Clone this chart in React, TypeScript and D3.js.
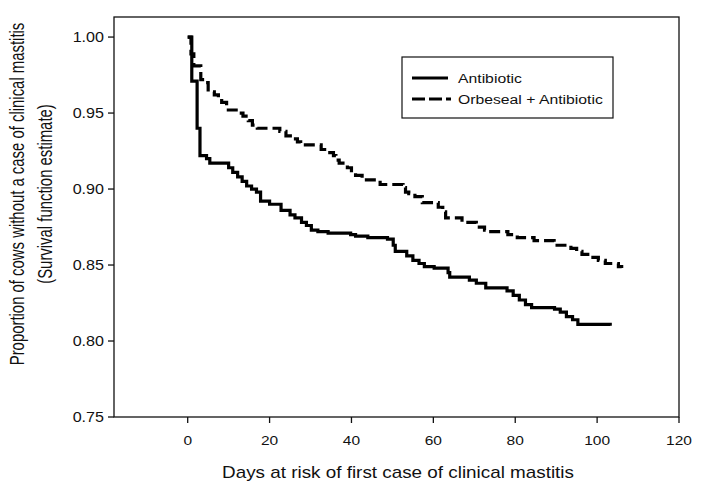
import React from "react";
import * as d3 from "d3";

// Kaplan-Meier step data (day, survival estimate after that day)
const antibioticDays = [0, 1.0, 2.3, 3.0, 4.6, 5.4, 10.0, 11.0, 12.2, 13.3, 14.4, 15.6, 16.8, 17.8, 20.0, 22.8, 25.0, 26.2, 27.8, 29.0, 30.2, 31.8, 34.3, 39.8, 41.0, 44.0, 48.8, 50.2, 50.7, 53.5, 55.0, 56.5, 57.8, 60.2, 63.6, 64.0, 68.8, 70.5, 72.8, 78.0, 79.5, 81.0, 82.5, 84.0, 89.6, 91.0, 92.5, 94.0, 95.3, 103.2];
const antibioticSurv = [1.0, 0.971, 0.94, 0.922, 0.92, 0.917, 0.914, 0.911, 0.908, 0.905, 0.902, 0.9, 0.898, 0.892, 0.89, 0.886, 0.883, 0.881, 0.878, 0.876, 0.873, 0.872, 0.871, 0.87, 0.869, 0.868, 0.867, 0.863, 0.859, 0.856, 0.853, 0.851, 0.849, 0.848, 0.845, 0.842, 0.84, 0.838, 0.835, 0.833, 0.83, 0.827, 0.824, 0.822, 0.821, 0.819, 0.816, 0.814, 0.811, 0.81];

const orbesealDays = [0, 0.8, 1.5, 3.2, 4.2, 5.0, 6.5, 7.5, 8.3, 9.5, 12.5, 13.5, 14.8, 15.8, 17.0, 22.5, 24.0, 25.5, 26.8, 27.6, 32.6, 34.0, 35.6, 36.2, 37.0, 39.0, 40.0, 41.0, 42.6, 47.0, 52.6, 53.2, 54.0, 55.5, 57.3, 61.2, 62.3, 63.0, 67.0, 70.5, 72.5, 73.5, 78.2, 80.5, 84.6, 89.5, 93.6, 95.0, 96.3, 98.2, 100.3, 102.0, 105.2, 106.0];
const orbesealSurv = [1.0, 0.989, 0.981, 0.972, 0.97, 0.964, 0.962, 0.96, 0.957, 0.952, 0.95, 0.948, 0.945, 0.942, 0.94, 0.938, 0.935, 0.933, 0.931, 0.929, 0.926, 0.924, 0.922, 0.919, 0.917, 0.914, 0.911, 0.909, 0.906, 0.903, 0.901, 0.898, 0.897, 0.895, 0.891, 0.888, 0.885, 0.881, 0.878, 0.875, 0.873, 0.872, 0.87, 0.868, 0.866, 0.863, 0.861, 0.859, 0.857, 0.855, 0.853, 0.851, 0.849, 0.848];

const xTicks = [0, 20, 40, 60, 80, 100, 120];
const yTicks = [0.75, 0.8, 0.85, 0.9, 0.95, 1.0];
const seriesNames = ["Antibiotic", "Orbeseal + Antibiotic"];

const W = 705;
const H = 482;
const FONT = "'Liberation Sans', Arial, sans-serif";
const SX = 1.15; // horizontal stretch of the scanned figure
const SX_ROT = 1.3;

type TProps = { x: number; y: number; size: number; anchor?: "start" | "middle" | "end"; rot?: boolean; children: React.ReactNode };
function T({ x, y, size, anchor = "start", rot = false, children }: TProps) {
  const tf = rot
    ? `translate(${x},${y}) rotate(-90) scale(1,${SX_ROT})`
    : `translate(${x},${y}) scale(${SX},1)`;
  return (
    <text transform={tf} textAnchor={anchor} fontSize={size} fill="#111">
      {children}
    </text>
  );
}

export default function App() {
  const left = 114, right = 679, top = 17, bottom = 417;
  const x = d3.scaleLinear().domain([-18, 120]).range([left, right]);
  const y = d3.scaleLinear().domain([0.75, 1.0132]).range([bottom, top]);

  const line = d3
    .line<[number, number]>()
    .x((d) => x(d[0]))
    .y((d) => y(d[1]))
    .curve(d3.curveStepAfter);

  const a = antibioticDays.map((d, i) => [d, antibioticSurv[i]] as [number, number]);
  const o = orbesealDays.map((d, i) => [d, orbesealSurv[i]] as [number, number]);

  const lx = 402, ly = 57, lw = 211, lh = 61;
  const yTitleY = 194;

  return (
    <svg width={W} height={H} style={{ position: "absolute", left: 0, top: 0, background: "#fff" }} fontFamily={FONT}>
      <rect x={0} y={0} width={W} height={H} fill="#fff" />
      {/* frame */}
      <rect x={left} y={top} width={right - left} height={bottom - top} fill="none" stroke="#111" strokeWidth={1.3} />
      {/* y ticks */}
      {yTicks.map((t) => (
        <g key={"y" + t}>
          <line x1={left - 6} x2={left} y1={y(t)} y2={y(t)} stroke="#111" strokeWidth={1.3} />
          <T x={left - 10} y={y(t) + 5} size={14} anchor="end">
            {t.toFixed(2)}
          </T>
        </g>
      ))}
      {/* x ticks */}
      {xTicks.map((t) => (
        <g key={"x" + t}>
          <line x1={x(t)} x2={x(t)} y1={bottom} y2={bottom + 6} stroke="#111" strokeWidth={1.3} />
          <T x={x(t)} y={bottom + 28} size={13.5} anchor="middle">
            {t}
          </T>
        </g>
      ))}
      {/* curves */}
      <path d={line(a) || ""} fill="none" stroke="#000" strokeWidth={3.2} />
      <path d={line(o) || ""} fill="none" stroke="#000" strokeWidth={3.2} strokeDasharray="11,5" />
      {/* axis titles */}
      <T x={398} y={478} size={16.4} anchor="middle">
        Days at risk of first case of clinical mastitis
      </T>
      <T x={24} y={yTitleY} size={14.9} anchor="middle" rot>
        Proportion of cows without a case of clinical mastitis
      </T>
      <T x={52} y={yTitleY} size={14.9} anchor="middle" rot>
        (Survival function estimate)
      </T>
      {/* legend */}
      <rect x={lx} y={ly} width={lw} height={lh} fill="#fff" stroke="#111" strokeWidth={1.2} />
      <line x1={lx + 10} x2={lx + 46} y1={ly + 21} y2={ly + 21} stroke="#000" strokeWidth={3} />
      <T x={lx + 56} y={ly + 26} size={13.7}>{seriesNames[0]}</T>
      <line x1={lx + 10} x2={lx + 49} y1={ly + 42} y2={ly + 42} stroke="#000" strokeWidth={3} strokeDasharray="13,4" />
      <T x={lx + 56} y={ly + 47} size={13.7}>{seriesNames[1]}</T>
    </svg>
  );
}
